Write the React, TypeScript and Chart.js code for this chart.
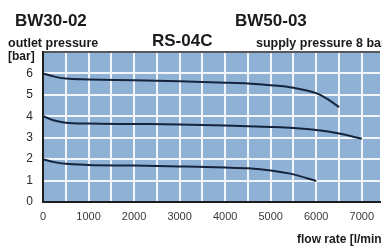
import React, { useEffect, useRef } from 'react';
import { Chart, registerables } from 'chart.js';

Chart.register(...registerables);

const flowTop = [0, 250, 500, 1000, 2000, 3000, 4000, 4500, 5000, 5500, 6000, 6250, 6500];
const pressureTop = [6.0, 5.85, 5.76, 5.72, 5.68, 5.63, 5.57, 5.53, 5.45, 5.33, 5.08, 4.8, 4.43];
const flowMid = [0, 250, 500, 1000, 2000, 3000, 4000, 5000, 5500, 6000, 6500, 7000];
const pressureMid = [4.0, 3.8, 3.7, 3.66, 3.64, 3.62, 3.57, 3.5, 3.45, 3.36, 3.2, 2.95];
const flowLow = [0, 250, 500, 1000, 2000, 3000, 4000, 4500, 5000, 5500, 6000];
const pressureLow = [2.0, 1.86, 1.78, 1.73, 1.7, 1.66, 1.61, 1.57, 1.47, 1.29, 0.98];

const xGridValues = [0, 500, 1000, 1500, 2000, 2500, 3000, 3500, 4000, 4500, 5000, 5500, 6000, 6500, 7000];
const xLabelValues = [0, 1000, 2000, 3000, 4000, 5000, 6000, 7000];
const yLabelValues = [0, 1, 2, 3, 4, 5, 6];

const titleLeft = 'BW30-02';
const titleRight = 'BW50-03';
const titleCenter = 'RS-04C';
const yTitle = 'outlet pressure';
const yUnit = '[bar]';
const supplyNote = 'supply pressure 8 bar';
const xTitle = 'flow rate [l/min]';

const FONT = '"Liberation Sans", Arial, sans-serif';

const textPlugin = {
  id: 'texts',
  beforeDraw(chart: any) {
    const { ctx, chartArea } = chart;
    ctx.save();
    ctx.fillStyle = '#8fb1d6';
    ctx.fillRect(chartArea.left, chartArea.top, chartArea.right - chartArea.left, chartArea.bottom - chartArea.top);
    ctx.restore();
  },
  afterDraw(chart: any) {
    const { ctx, chartArea } = chart;
    ctx.save();
    // top border
    ctx.strokeStyle = '#222';
    ctx.lineWidth = 1.5;
    ctx.beginPath();
    ctx.moveTo(chartArea.left, chartArea.top);
    ctx.lineTo(chartArea.right, chartArea.top);
    ctx.stroke();

    ctx.fillStyle = '#1a1a1a';
    ctx.textBaseline = 'alphabetic';
    ctx.textAlign = 'left';
    ctx.font = `bold 17px ${FONT}`;
    ctx.fillText(titleLeft, 15, 26);
    ctx.fillText(titleRight, 235, 26);
    ctx.fillText(titleCenter, 152, 46);
    ctx.font = `bold 12.5px ${FONT}`;
    ctx.fillText(yTitle, 8, 47);
    ctx.fillText(supplyNote, 256, 47);
    ctx.font = `bold 12px ${FONT}`;
    ctx.fillText(yUnit, 8, 60);
    ctx.fillText(xTitle, 297, 243);
    ctx.restore();
  },
};

export default function App() {
  const ref = useRef<HTMLCanvasElement>(null);
  useEffect(() => {
    if (!ref.current) return;
    const lineStyle = {
      borderColor: '#15243a',
      borderWidth: 2,
      pointRadius: 0,
      fill: false,
      cubicInterpolationMode: 'monotone' as const,
    };
    const chart = new Chart(ref.current, {
      type: 'line',
      data: {
        datasets: [
          { label: 'top', data: flowTop.map((x, i) => ({ x, y: pressureTop[i] })), ...lineStyle },
          { label: 'mid', data: flowMid.map((x, i) => ({ x, y: pressureMid[i] })), ...lineStyle },
          { label: 'low', data: flowLow.map((x, i) => ({ x, y: pressureLow[i] })), ...lineStyle },
        ],
      },
      options: {
        animation: false,
        responsive: false,
        layout: { padding: { left: 0, top: 52, right: 0, bottom: 0 } },
        plugins: { legend: { display: false }, tooltip: { enabled: false }, title: { display: false } },
        scales: {
          x: {
            type: 'linear',
            min: 0,
            max: 7400,
            afterBuildTicks: (scale: any) => {
              scale.ticks = xGridValues.map((v) => ({ value: v }));
            },
            afterFit: (scale: any) => {
              scale.height = 46;
            },
            grid: { color: '#f2f6fb', lineWidth: 2, drawTicks: false },
            border: { display: true, color: '#1e1e1e', width: 2 },
            ticks: {
              autoSkip: false,
              maxRotation: 0,
              padding: 8,
              color: '#3a3a3a',
              font: { family: FONT, size: 11 },
              callback: (v: any) => (xLabelValues.includes(Number(v)) ? String(v) : ''),
            },
          },
          y: {
            type: 'linear',
            min: 0,
            max: 7,
            afterBuildTicks: (scale: any) => {
              scale.ticks = [0, 1, 2, 3, 4, 5, 6, 7].map((v) => ({ value: v }));
            },
            afterFit: (scale: any) => {
              scale.width = 43;
            },
            grid: { color: '#f2f6fb', lineWidth: 2, drawTicks: false },
            border: { display: true, color: '#1e1e1e', width: 2 },
            ticks: {
              padding: 10,
              color: '#2a2a2a',
              font: { family: FONT, size: 12 },
              callback: (v: any) => (yLabelValues.includes(Number(v)) ? String(v) : ''),
            },
          },
        },
      },
      plugins: [textPlugin],
    });
    return () => chart.destroy();
  }, []);
  return (
    <div style={{ position: 'fixed', left: 0, top: 0, width: 382, height: 248, overflow: 'hidden', background: '#fff' }}>
      <canvas ref={ref} width={382} height={248} style={{ display: 'block' }} />
    </div>
  );
}
